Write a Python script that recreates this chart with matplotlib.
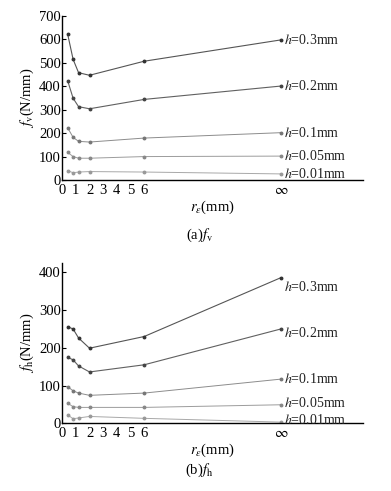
import matplotlib
matplotlib.use("Agg")
import matplotlib.pyplot as plt

plt.rcParams['font.family'] = ['Liberation Serif', 'DejaVu Serif']
plt.rcParams['mathtext.fontset'] = 'stix'

# x positions: nose radius r_eps (mm); 16 stands for infinity on the axis
r_eps = [0.4, 0.8, 1.2, 2, 6, 16]
h_labels = ['0.3', '0.2', '0.1', '0.05', '0.01']

fv_03 = [623, 515, 458, 447, 507, 598]
fv_02 = [424, 349, 313, 304, 344, 401]
fv_01 = [223, 182, 165, 162, 179, 202]
fv_005 = [118, 100, 93, 93, 100, 102]
fv_001 = [40, 31, 34, 36, 34, 26]

fh_03 = [256, 250, 226, 199, 230, 386]
fh_02 = [175, 168, 152, 136, 155, 250]
fh_01 = [97, 86, 80, 74, 80, 117]
fh_005 = [53, 44, 42, 42, 42, 49]
fh_001 = [22, 12, 14, 18, 13, 3]

xticks = [0, 1, 2, 3, 4, 5, 6, 16]
xticklabels = ['0', '1', '2', '3', '4', '5', '6', r'$\infty$']

colors = ['#555555', '#606060', '#8c8c8c', '#9c9c9c', '#a8a8a8']
mcolors = ['#333333', '#444444', '#777777', '#888888', '#999999']
lws = [0.8, 0.8, 0.7, 0.7, 0.7]

fig = plt.figure(figsize=(3.91, 4.91), dpi=100)
ax1 = fig.add_axes([0.159, 0.6334, 0.769, 0.334])
ax2 = fig.add_axes([0.159, 0.138, 0.769, 0.3264])

def draw(ax, series, ylim, yticks, ylabel, label_offsets):
    for s, lab, c, mc, lw, off in zip(series, h_labels, colors, mcolors, lws, label_offsets):
        ax.plot(r_eps, s, color=c, lw=lw, marker='o', ms=1.8, mfc=mc, mec=mc)
        ax.text(r_eps[-1] + 0.25, s[-1] + off, r'$h$=' + lab + 'mm',
                fontsize=10, va='center', ha='left', color='#222222')
    ax.set_xlim(0, 22)
    ax.set_ylim(*ylim)
    ax.set_yticks(yticks)
    ax.set_xticks(xticks)
    ax.set_xticklabels(xticklabels)
    for sp in ['top', 'right']:
        ax.spines[sp].set_visible(False)
    ax.spines['left'].set_linewidth(1.0)
    ax.spines['bottom'].set_linewidth(1.0)
    ax.tick_params(axis='both', direction='in', length=3, labelsize=10.5, pad=1)
    ax.tick_params(axis='x', length=0, pad=3)
    ax.set_ylabel(ylabel, fontsize=10.5, labelpad=2)
    ax.set_xlabel(r'$r_\varepsilon$(mm)', fontsize=10.5, labelpad=1)

draw(ax1, [fv_03, fv_02, fv_01, fv_005, fv_001], (0, 700),
     [0, 100, 200, 300, 400, 500, 600, 700], r'$f_\mathrm{v}$(N/mm)',
     [0, 0, 0, 0, 0])
draw(ax2, [fh_03, fh_02, fh_01, fh_005, fh_001], (0, 425),
     [0, 100, 200, 300, 400], r'$f_\mathrm{h}$(N/mm)',
     [-24, -10, 0, 4, 5])

fig.text(0.51, 0.521, r'(a)$f_\mathrm{v}$', fontsize=10.5, ha='center', va='center')
fig.text(0.51, 0.043, r'(b)$f_\mathrm{h}$', fontsize=10.5, ha='center', va='center')

fig.savefig('out.png', dpi=100)
